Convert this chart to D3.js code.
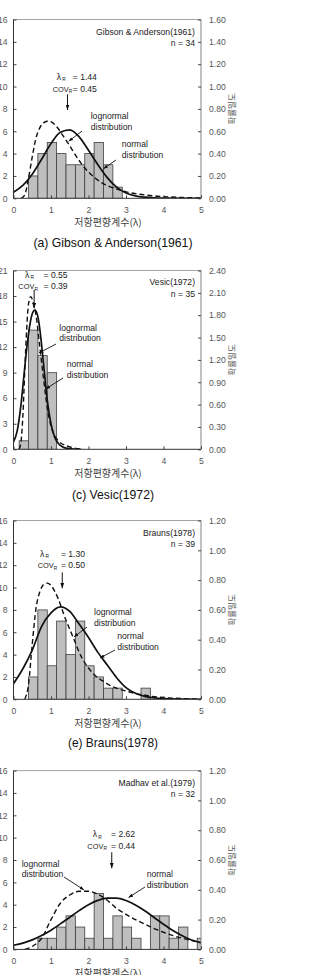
<!DOCTYPE html>
<html><head><meta charset="utf-8">
<script src="https://cdn.jsdelivr.net/npm/d3@7"></script>
<style>body{margin:0;background:#fff;} svg{display:block;}</style>
</head><body>
<script>
// ================= DATA =================
const xTicks = [0, 1, 2, 3, 4, 5];
const binWidth = 0.25;
const xTitle = "저항편향계수(λ)";
const yRightTitle = "확률밀도";
const captions = ["(a) Gibson & Anderson(1961)", "(c) Vesic(1972)", "(e) Brauns(1978)"];
const sources = ["Gibson & Anderson(1961)", "Vesic(1972)", "Brauns(1978)", "Madhav et al.(1979)"];
const sampleSizes = [34, 35, 39, 32];
const lambdaR = [1.44, 0.55, 1.30, 2.62];
const covR = [0.45, 0.39, 0.50, 0.44];

// (a) Gibson & Anderson(1961)
const binsA = [0.4, 0.65, 0.9, 1.15, 1.4, 1.65, 1.9, 2.15, 2.4, 2.65];
const countsA = [2, 4, 5, 4, 3, 3, 4, 5, 3, 1];
const leftTicksA = [0, 2, 4, 6, 8, 10, 12, 14, 16];
const rightTicksA = [0, 0.2, 0.4, 0.6, 0.8, 1.0, 1.2, 1.4, 1.6];
const normXA = [0, 0.25, 0.5, 0.75, 1.0, 1.25, 1.5, 1.75, 2.0, 2.25, 2.5, 2.75, 3.0, 3.25, 3.5, 3.75, 4.0, 4.5, 5.0];
const normYA = [0.055, 0.115, 0.215, 0.35, 0.49, 0.59, 0.612, 0.55, 0.43, 0.3, 0.185, 0.1, 0.048, 0.022, 0.01, 0.004, 0.0015, 0, 0];
const lognXA = [0.2, 0.3, 0.4, 0.5, 0.6, 0.7, 0.8, 0.9, 1.0, 1.1, 1.2, 1.3, 1.4, 1.5, 1.6, 1.8, 2.0, 2.2, 2.4, 2.6, 2.8, 3.0, 3.25, 3.5, 3.75, 4.0, 4.5, 5.0];
const lognYA = [0, 0.03, 0.18, 0.37, 0.54, 0.63, 0.675, 0.69, 0.685, 0.66, 0.62, 0.57, 0.52, 0.47, 0.415, 0.315, 0.235, 0.175, 0.13, 0.1, 0.077, 0.058, 0.042, 0.03, 0.021, 0.015, 0.007, 0.003];

// (c) Vesic(1972)
const binsC = [0.15, 0.4, 0.65, 0.9];
const countsC = [1, 14, 11, 9];
const leftTicksC = [0, 3, 6, 9, 12, 15, 18, 21];
const rightTicksC = [0, 0.3, 0.6, 0.9, 1.2, 1.5, 1.8, 2.1, 2.4];
const normXC = [0, 0.1, 0.2, 0.3, 0.4, 0.5, 0.57, 0.65, 0.7, 0.8, 0.9, 1.0, 1.1, 1.2, 1.3, 1.4, 1.6, 1.8];
const normYC = [0.1, 0.25, 0.6, 1.1, 1.55, 1.82, 1.87, 1.78, 1.62, 1.15, 0.66, 0.34, 0.16, 0.075, 0.035, 0.015, 0.004, 0];
const lognXC = [0.15, 0.2, 0.25, 0.3, 0.35, 0.4, 0.46, 0.52, 0.6, 0.7, 0.8, 0.9, 1.0, 1.1, 1.2, 1.4, 1.6, 1.85];
const lognYC = [0, 0.1, 0.45, 1.05, 1.6, 1.95, 2.05, 1.98, 1.8, 1.38, 0.95, 0.56, 0.31, 0.18, 0.11, 0.05, 0.02, 0.003];

// (e) Brauns(1978)
const binsE = [0.4, 0.65, 0.9, 1.15, 1.4, 1.65, 1.9, 2.15, 2.4, 2.65, 2.9, 3.15, 3.4];
const countsE = [2, 8, 3, 7, 4, 7, 3, 2, 1, 1, 0, 0, 1];
const leftTicksE = [0, 2, 4, 6, 8, 10, 12, 14, 16];
const rightTicksE = [0, 0.2, 0.4, 0.6, 0.8, 1.0, 1.2];
const normXE = [0, 0.25, 0.5, 0.75, 1.0, 1.25, 1.5, 1.75, 2.0, 2.25, 2.5, 2.75, 3.0, 3.25, 3.5, 3.75, 4.0, 4.5, 5.0];
const normYE = [0.105, 0.205, 0.33, 0.49, 0.58, 0.62, 0.59, 0.505, 0.415, 0.315, 0.23, 0.145, 0.078, 0.04, 0.02, 0.009, 0.004, 0.001, 0];
const lognXE = [0.3, 0.4, 0.5, 0.6, 0.7, 0.8, 0.9, 1.0, 1.1, 1.2, 1.3, 1.4, 1.5, 1.6, 1.8, 2.0, 2.2, 2.4, 2.6, 2.8, 3.0, 3.5, 4.0, 4.5, 5.0];
const lognYE = [0, 0.1, 0.37, 0.61, 0.72, 0.77, 0.78, 0.765, 0.725, 0.67, 0.6, 0.53, 0.47, 0.41, 0.29, 0.21, 0.155, 0.12, 0.09, 0.07, 0.055, 0.027, 0.012, 0.005, 0.002];

// (g) Madhav et al.(1979)
const binsG = [0.65, 0.9, 1.15, 1.4, 1.65, 1.9, 2.15, 2.4, 2.65, 2.9, 3.15, 3.4, 3.65, 3.9, 4.15, 4.4, 4.65, 4.9];
const countsG = [1, 1, 2, 3, 2, 1, 5, 1, 3, 2, 1, 0, 3, 3, 1, 2, 0, 1];
const leftTicksG = [0, 2, 4, 6, 8, 10, 12, 14, 16];
const rightTicksG = [0, 0.2, 0.4, 0.6, 0.8, 1.0, 1.2];
const normXG = [0, 0.25, 0.5, 0.75, 1.0, 1.25, 1.5, 1.75, 2.0, 2.25, 2.5, 2.75, 3.0, 3.25, 3.5, 3.75, 4.0, 4.25, 4.5, 4.75, 5.0];
const normYG = [0.028, 0.042, 0.064, 0.093, 0.129, 0.171, 0.216, 0.26, 0.3, 0.329, 0.344, 0.344, 0.328, 0.298, 0.259, 0.214, 0.169, 0.127, 0.092, 0.063, 0.045];
const lognXG = [0.3, 0.5, 0.75, 1.0, 1.25, 1.5, 1.75, 2.0, 2.25, 2.5, 2.75, 3.0, 3.25, 3.5, 3.75, 4.0, 4.25, 4.5, 4.75, 5.0];
const lognYG = [0, 0.02, 0.075, 0.2, 0.31, 0.365, 0.39, 0.39, 0.37, 0.33, 0.275, 0.235, 0.2, 0.17, 0.14, 0.115, 0.093, 0.075, 0.06, 0.045];

// ================= LAYOUT (annotation anchors in data units: [x, density]) =================
const W = 313, H = 975;
const xLeft = 13.5, xRight = 201;
const plotH = 178.8;
const plotTops = [19.5, 270.5, 520.5, 770.6];
const annot = [
  {src:[4.84,1.457], n:[4.84,1.363], lam:[1.152,1.062], eq:1.58, cov:[1.045,0.955], arrow:[0.93,0.79],
   logT:[2.059,0.710,0.611], logP:[1.827,0.602,1.47,0.51], normT:[2.885,0.459,0.361], normP:[2.733,0.343,2.4,0.265]},
  {src:[4.84,2.199], n:[4.84,2.051], lam:[0.307,2.305], eq:0.80, cov:[0.128,2.145], arrow:[2.14,1.89],
   logT:[1.221,1.588,1.447], logP:[1.133,1.413,0.68,1.293], normT:[1.419,1.098,0.957], normP:[1.32,0.957,0.853,0.809]},
  {src:[4.84,1.096], n:[4.84,1.022], lam:[0.707,0.958], eq:1.265, cov:[0.645,0.878], arrow:[0.852,0.745],
   logT:[2.147,0.566,0.489], logP:[1.96,0.485,1.613,0.418], normT:[2.768,0.405,0.331], normP:[2.707,0.331,2.307,0.277]},
  {src:[4.84,1.100], n:[4.84,1.026], lam:[2.112,0.754], eq:2.60, cov:[1.968,0.677], arrow:[0.652,0.544],
   logT:[0.219,0.556,0.483], logP:[1.347,0.486,1.88,0.399], normT:[3.552,0.483,0.409], normP:[3.507,0.419,3.067,0.348]}
];
const captionBaselines = [247, 498.5, 747];
const captionWidths = [159, 82, 90];

const panels = [
  {bins:binsA, counts:countsA, lt:leftTicksA, rt:rightTicksA, nx:normXA, ny:normYA, lx:lognXA, ly:lognYA},
  {bins:binsC, counts:countsC, lt:leftTicksC, rt:rightTicksC, nx:normXC, ny:normYC, lx:lognXC, ly:lognYC},
  {bins:binsE, counts:countsE, lt:leftTicksE, rt:rightTicksE, nx:normXE, ny:normYE, lx:lognXE, ly:lognYE},
  {bins:binsG, counts:countsG, lt:leftTicksG, rt:rightTicksG, nx:normXG, ny:normYG, lx:lognXG, ly:lognYG}
];

const FONT = "'Liberation Sans', Arial, Helvetica, sans-serif";
const KFONT = "'Noto Sans CJK KR', 'Noto Sans', sans-serif";

const svg = d3.select("body").append("svg").attr("width", W).attr("height", H)
  .attr("viewBox", `0 0 ${W} ${H}`);
const defs = svg.append("defs");
function marker(id, len, wid) {
  defs.append("marker").attr("id", id).attr("viewBox", `0 0 ${len} ${wid}`)
    .attr("refX", len).attr("refY", wid / 2).attr("markerWidth", len).attr("markerHeight", wid)
    .attr("markerUnits", "userSpaceOnUse").attr("orient", "auto").attr("preserveAspectRatio", "none")
    .append("path").attr("d", `M0,0L${len},${wid / 2}L0,${wid}Z`).attr("fill", "#111");
}
marker("ahBig", 5.5, 4);
marker("ahSmall", 4.5, 3.5);

const fmt2 = d3.format(".2f");

function styleAxis(sel) {
  sel.select(".domain").remove();
  sel.attr("font-family", FONT).attr("font-size", 8.6);
  sel.selectAll(".tick line").attr("stroke", "#333").attr("stroke-width", 0.9);
  sel.selectAll(".tick text").attr("fill", "#555");
}

panels.forEach((p, i) => {
  const top = plotTops[i], bottom = top + plotH;
  const x = d3.scaleLinear().domain([0, 5]).range([xLeft, xRight]);
  const yL = d3.scaleLinear().domain([0, p.lt[p.lt.length - 1]]).range([bottom, top]);
  const yR = d3.scaleLinear().domain([0, p.rt[p.rt.length - 1]]).range([bottom, top]);
  const g = svg.append("g");
  const clipId = "clip" + i;
  defs.append("clipPath").attr("id", clipId).append("rect")
    .attr("x", xLeft).attr("y", top).attr("width", xRight - xLeft).attr("height", plotH);

  // bars
  const barData = p.bins.map((b, k) => ({x0: b, x1: b + binWidth, c: p.counts[k]})).filter(d => d.c > 0);
  g.append("g").attr("clip-path", `url(#${clipId})`).selectAll("rect").data(barData).join("rect")
    .attr("x", d => x(d.x0)).attr("width", d => x(d.x1) - x(d.x0))
    .attr("y", d => yL(d.c)).attr("height", d => yL(0) - yL(d.c))
    .attr("fill", "#bfbfbf").attr("stroke", "#404040").attr("stroke-width", 0.8);

  // curves
  const line = d3.line().x(d => x(d[0])).y(d => yR(d[1])).curve(d3.curveMonotoneX);
  const cg = g.append("g").attr("clip-path", `url(#${clipId})`);
  cg.append("path").datum(d3.zip(p.lx, p.ly)).attr("d", line).attr("fill", "none")
    .attr("stroke", "#111").attr("stroke-width", 1.4).attr("stroke-dasharray", "5,3");
  cg.append("path").datum(d3.zip(p.nx, p.ny)).attr("d", line).attr("fill", "none")
    .attr("stroke", "#111").attr("stroke-width", 1.7);

  // frame
  g.append("line").attr("x1", xLeft).attr("x2", xRight).attr("y1", top).attr("y2", top).attr("stroke", "#999").attr("stroke-width", 0.9);
  g.append("line").attr("x1", xRight).attr("x2", xRight).attr("y1", top).attr("y2", bottom).attr("stroke", "#777").attr("stroke-width", 0.9);
  g.append("line").attr("x1", xLeft).attr("x2", xLeft).attr("y1", top).attr("y2", bottom).attr("stroke", "#333").attr("stroke-width", 1);
  g.append("line").attr("x1", xLeft).attr("x2", xRight).attr("y1", bottom).attr("y2", bottom).attr("stroke", "#333").attr("stroke-width", 1);

  // axes
  g.append("g").attr("transform", `translate(${xLeft},0)`)
    .call(d3.axisLeft(yL).tickValues(p.lt).tickSize(-3).tickPadding(6).tickFormat(d3.format("d"))).call(styleAxis);
  g.append("g").attr("transform", `translate(${xRight},0)`)
    .call(d3.axisRight(yR).tickValues(p.rt).tickSize(-3).tickPadding(8).tickFormat(fmt2)).call(styleAxis);
  g.append("g").attr("transform", `translate(0,${bottom})`)
    .call(d3.axisBottom(x).tickValues(xTicks).tickSize(-3).tickPadding(9).tickFormat(d3.format("d"))).call(styleAxis);

  // axis titles
  g.append("text").attr("x", 108).attr("y", bottom + 27.5).attr("text-anchor", "middle")
    .attr("font-family", KFONT).attr("font-size", 10).attr("fill", "#444").text(xTitle);
  g.append("text").attr("transform", `translate(235,${(top + bottom) / 2}) rotate(-90)`)
    .attr("text-anchor", "middle").attr("font-family", KFONT).attr("font-size", 8.5).attr("fill", "#555").text(yRightTitle);

  // annotations
  const a = annot[i];
  const T = (xx, yy, s, anchor, fs) => g.append("text").attr("x", x(xx)).attr("y", yR(yy))
    .attr("text-anchor", anchor || "start").attr("font-family", FONT).attr("font-size", fs || 8.6).attr("fill", "#222").text(s);
  const Sub = (px, yy) => g.append("text").attr("x", px).attr("y", yR(yy) + 1.6)
    .attr("font-family", FONT).attr("font-size", 4.8).attr("fill", "#222").text("R");
  T(a.src[0], a.src[1], sources[i], "end");
  T(a.n[0], a.n[1], "n = " + sampleSizes[i], "end");
  T(a.lam[0], a.lam[1], "λ");
  Sub(x(a.lam[0]) + 5.6, a.lam[1]);
  T(a.eq, a.lam[1], "= " + fmt2(lambdaR[i]));
  T(a.cov[0], a.cov[1], "COV", "start", 7.4);
  Sub(x(a.cov[0]) + 16.1, a.cov[1]);
  T(a.eq, a.cov[1], "= " + fmt2(covR[i]));
  g.append("line").attr("x1", x(lambdaR[i])).attr("x2", x(lambdaR[i]))
    .attr("y1", yR(a.arrow[0])).attr("y2", yR(a.arrow[1]))
    .attr("stroke", "#111").attr("stroke-width", 1).attr("marker-end", "url(#ahBig)");
  T(a.logT[0], a.logT[1], "lognormal");
  T(a.logT[0], a.logT[2], "distribution");
  T(a.normT[0], a.normT[1], "normal");
  T(a.normT[0], a.normT[2], "distribution");
  [a.logP, a.normP].forEach(pp => {
    g.append("line").attr("x1", x(pp[0])).attr("y1", yR(pp[1])).attr("x2", x(pp[2])).attr("y2", yR(pp[3]))
      .attr("stroke", "#111").attr("stroke-width", 0.9).attr("marker-end", "url(#ahSmall)");
  });

  // caption
  if (i < captions.length) {
    svg.append("text").attr("x", 113).attr("y", captionBaselines[i]).attr("text-anchor", "middle")
      .attr("font-family", FONT).attr("font-size", 13).attr("fill", "#111")
      .attr("textLength", captionWidths[i]).attr("lengthAdjust", "spacingAndGlyphs")
      .text(captions[i]);
  }
});
</script>
</body></html>
